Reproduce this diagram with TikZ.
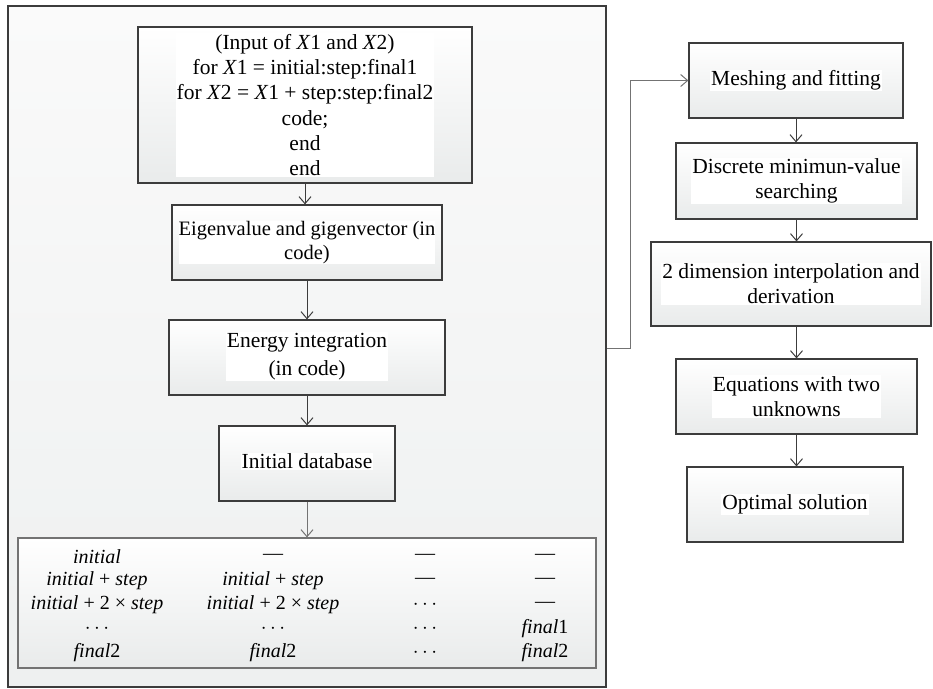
\documentclass[tikz,border=0pt]{standalone}
\usepackage{fontspec}
\setmainfont{Liberation Serif}
\usetikzlibrary{arrows.meta,calc}
\definecolor{linec}{HTML}{3C3C3C}
\definecolor{grayc}{HTML}{737373}
\definecolor{boxbot}{HTML}{E9EBEB}
\definecolor{frtop}{HTML}{FAFAFA}
\definecolor{frbot}{HTML}{EEF0F0}
\tikzset{
  box/.style={draw=linec, line width=1.2pt, top color=white, bottom color=boxbot, inner sep=0pt},
  txt/.style={fill=white, inner sep=1pt, align=center, font=\fontsize{21.5}{25.2}\selectfont, text=black},
  cell/.style={inner sep=0pt, font=\fontsize{20}{23}\selectfont},
  arr/.style={draw=linec, line width=1pt, -{Straight Barb[length=7pt,width=12pt,line width=1pt]}},
  garr/.style={draw=grayc, line width=1pt, -{Straight Barb[length=7pt,width=12pt,line width=1pt]}},
}
\begin{document}
\begin{tikzpicture}[x=1pt,y=-1pt]
\useasboundingbox (0,0) rectangle (933,688);
% outer frame
\node[draw=linec, line width=1.3pt, top color=frtop, bottom color=frbot, inner sep=0pt,
  minimum width=598pt, minimum height=681pt] (frame) at (307,346.5) {};
% left column
\node[box, minimum width=334pt, minimum height=156pt] (b1) at (305,105) {};
\node[txt] (t1) at (b1) {(Input of \textit{X}1 and \textit{X}2)\\ for \textit{X}1 = initial:step:final1\\ for \textit{X}2 = \textit{X}1 + step:step:final2\\ code;\\ end\\ end};
\node[box, minimum width=270pt, minimum height=75pt] (b2) at (307,242.5) {};
\node[txt, inner sep=0pt, font=\fontsize{20.5}{24.5}\selectfont] (t2) at (b2) {Eigenvalue and gigenvector (in\\ code)};
\node[box, minimum width=276pt, minimum height=75pt] (b3) at (307,357.5) {};
\node[txt] (t3) at ($(b3)+(0,-1)$) {Energy integration\\[3pt] (in code)};
\node[box, minimum width=176pt, minimum height=75pt] (b4) at (307,463.5) {};
\node[txt] (t4) at ($(b4)+(0,-2)$) {Initial database};
\node[draw=grayc, line width=1.2pt, top color=white, bottom color=boxbot, inner sep=0pt,
  minimum width=578pt, minimum height=130pt] (tbl) at (307,603) {};
% table entries
\node[cell] (r1c1) at (97,557) {\textit{initial}};
\node[cell] (r1c2) at (273,557) {—};
\node[cell] (r1c3) at (425,557) {—};
\node[cell] (r1c4) at (545,557) {—};
\node[cell] (r2c1) at (97,581) {\textit{initial} + \textit{step}};
\node[cell] (r2c2) at (273,581) {\textit{initial} + \textit{step}};
\node[cell] (r2c3) at (425,581) {—};
\node[cell] (r2c4) at (545,581) {—};
\node[cell] (r3c1) at (97,604.5) {\textit{initial} + 2 × \textit{step}};
\node[cell] (r3c2) at (273,604.5) {\textit{initial} + 2 × \textit{step}};
\node[cell] (r3c3) at (425,605) {$\cdots$};
\node[cell] (r3c4) at (545,605) {—};
\node[cell] (r4c1) at (97,629) {$\cdots$};
\node[cell] (r4c2) at (273,629) {$\cdots$};
\node[cell] (r4c3) at (425,629) {$\cdots$};
\node[cell] (r4c4) at (545,629) {\textit{final}1};
\node[cell] (r5c1) at (97,653) {\textit{final}2};
\node[cell] (r5c2) at (273,653) {\textit{final}2};
\node[cell] (r5c3) at (425,653) {$\cdots$};
\node[cell] (r5c4) at (545,653) {\textit{final}2};
% right column
\node[box, minimum width=214pt, minimum height=75pt] (m1) at (796,80.5) {};
\node[txt] (s1) at (m1) {Meshing and fitting};
\node[box, minimum width=241pt, minimum height=76pt] (m2) at (796.5,181) {};
\node[txt] (s2) at (m2) {Discrete minimun-value\\ searching};
\node[box, minimum width=280pt, minimum height=84pt] (m3) at (791,284) {};
\node[txt] (s3) at (m3) {2 dimension interpolation and\\ derivation};
\node[box, minimum width=241pt, minimum height=75pt] (m4) at (796.5,396.5) {};
\node[txt] (s4) at (m4) {Equations with two\\ unknowns};
\node[box, minimum width=216pt, minimum height=75pt] (m5) at (795,504.5) {};
\node[txt] (s5) at (m5) {Optimal solution};
% arrows
\draw[arr] (b1.south) -- (b1.south |- b2.north);
\draw[arr] (b2.south) -- (b2.south |- b3.north);
\draw[arr] (b3.south) -- (b3.south |- b4.north);
\draw[garr] (b4.south) -- (b4.south |- tbl.north);
\draw[arr] (m1.south) -- (m1.south |- m2.north);
\draw[arr] (m2.south) -- (m2.south |- m3.north);
\draw[arr] (m2.south |- m3.south) -- (m2.south |- m4.north);
\draw[arr] (m4.south) -- (m4.south |- m5.north);
\coordinate (c1) at (630,348);
\draw[garr] (frame.east |- c1) -- (c1) |- (m1.west);
\end{tikzpicture}
\end{document}
